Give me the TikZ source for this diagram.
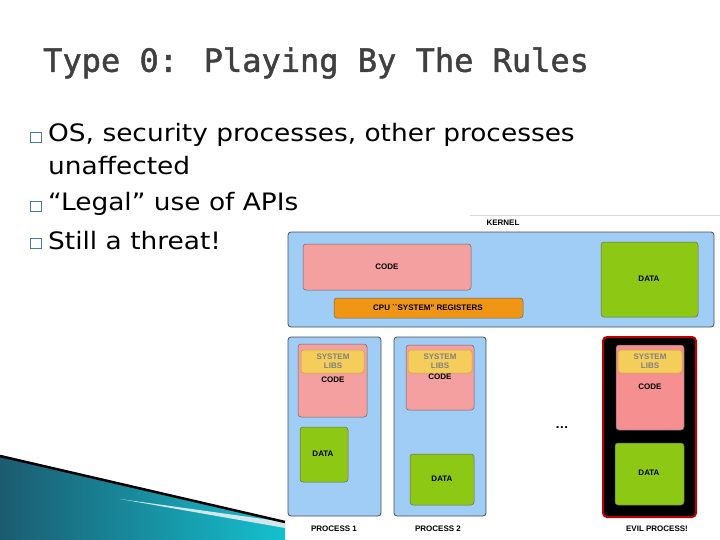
\documentclass[tikz,border=0pt]{standalone}
\usepackage{fontspec}
\setmainfont{DejaVu Sans}[FakeStretch=1.1]
\newfontfamily\titlefont{DejaVu Sans Mono}[FakeBold=1.5]
\newfontfamily\diafont{Liberation Sans}
\usetikzlibrary{positioning}
\definecolor{kblue}{RGB}{160,205,245}
\definecolor{kpink}{RGB}{245,160,160}
\definecolor{kgreen}{RGB}{140,200,20}
\definecolor{korange}{RGB}{240,150,20}
\definecolor{kyellow}{RGB}{245,205,90}
\definecolor{teal}{RGB}{40,130,160}
\tikzset{
  panel/.style={draw=black!70,rounded corners=3pt,fill=kblue,line width=0.8pt},
  part/.style={draw=black!60,rounded corners=3pt,line width=0.5pt},
  tag/.style={font=\diafont\bfseries\fontsize{8}{9}\selectfont},
  bullet/.style={font=\fontsize{24}{28}\selectfont,anchor=west,inner sep=0pt}
}
\begin{document}
\begin{tikzpicture}[x=1pt,y=-1pt]
        \useasboundingbox (0,0) rectangle (720,540);
        % swoosh in the corner
        \shade[left color=teal!70!black,right color=teal!50!cyan] (0,455) -- (285,522) -- (285,540) -- (0,540) -- cycle;
        \fill[teal!20] (120,499) -- (285,522) -- (285,528) -- cycle;
        \draw[line width=2.5pt] (0,456) -- (285,522);
        \node[font=\titlefont\fontsize{32}{36}\selectfont,text=black!75,anchor=west,inner sep=0pt] (title) at (43,63) {Type 0: Playing By The Rules};
        \node[bullet] (b1) at (48,135) {OS, security processes, other processes};
        \node[bullet] (b1b) at (48,166) {unaffected};
        \node[bullet] (b2) at (48,204) {“Legal” use of APIs};
        \node[bullet] (b3) at (48,241) {Still a threat!};
        \foreach \y in {137,206,243}
          \draw[teal!70!gray,line width=0.6pt] (30,\y-5) rectangle (41,\y+5);
        \draw[black!15,line width=1pt] (470,216) -- (720,216);
        % kernel
        \node[tag] (kernel) at (503,223) {KERNEL};
        \draw[panel] (288,232) rectangle (714,327);
        \draw[part,fill=kpink] (303,244) rectangle (471,290);
        \node[tag] (kcode) at (387,267) {CODE};
        \draw[part,fill=korange] (334,298) rectangle (523,318);
        \node[tag] (regs) at (428,308) {CPU ``SYSTEM'' REGISTERS};
        \draw[part,fill=kgreen] (601,242) rectangle (698,317);
        \node[tag] (kdata) at (649,279) {DATA};
        % process 1
        \draw[panel] (288,337) rectangle (381,516);
        \draw[part,fill=kpink] (298,344) rectangle (367,417);
        \draw[part,draw=kyellow!80!black,fill=kyellow] (301,350) rectangle (364,373);
        \node[tag,text=black!50,align=center] (lib1) at (333,361) {SYSTEM\\LIBS};
        \node[tag] (code1) at (333,380) {CODE};
        \draw[part,fill=kgreen] (300,427) rectangle (348,482);
        \node[tag] (data1) at (323,454) {DATA};
        \node[tag] (p1) at (334,529) {PROCESS 1};
        % process 2
        \draw[panel] (394,337) rectangle (486,516);
        \draw[part,fill=kpink] (406,345) rectangle (474,410);
        \draw[part,draw=kyellow!80!black,fill=kyellow] (408,350) rectangle (472,373);
        \node[tag,text=black!50,align=center] (lib2) at (440,361) {SYSTEM\\LIBS};
        \node[tag] (code2) at (440,377) {CODE};
        \draw[part,fill=kgreen] (410,454) rectangle (474,505);
        \node[tag] (data2) at (442,479) {DATA};
        \node[tag] (p2) at (438,529) {PROCESS 2};
        \node[font=\bfseries] (dots) at (562,428) {...};
        % evil process
        \draw[draw=red!75!black,fill=black,rounded corners=4pt,line width=2pt] (603,337) rectangle (696,517);
        \draw[part,fill=kpink!90!red] (616,345) rectangle (684,430);
        \draw[part,draw=kyellow!80!black,fill=kyellow] (618,350) rectangle (682,373);
        \node[tag,text=black!50,align=center] (lib3) at (650,361) {SYSTEM\\LIBS};
        \node[tag] (code3) at (650,387) {CODE};
        \draw[part,fill=kgreen] (615,443) rectangle (684,505);
        \node[tag] (data3) at (649,473) {DATA};
        \node[tag] (p3) at (657,529) {EVIL PROCESS!};
\end{tikzpicture}
\end{document}
